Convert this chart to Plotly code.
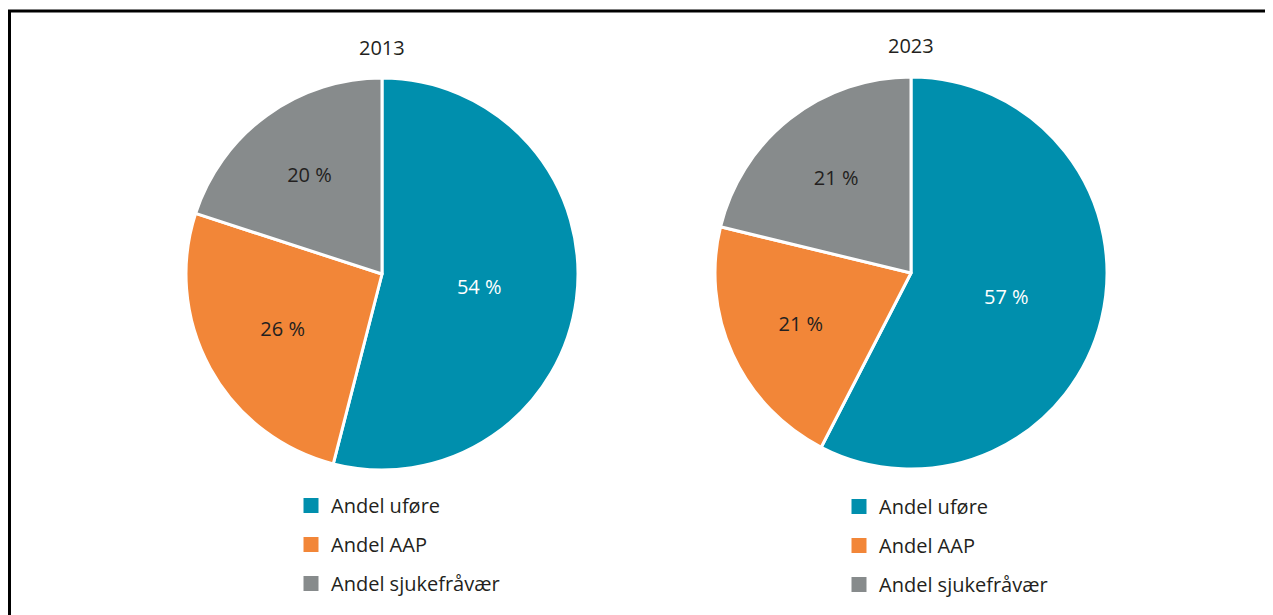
import plotly.graph_objects as go

labels = ["Andel uføre", "Andel AAP", "Andel sjukefråvær"]
colors = ["#008FAD", "#F28638", "#878B8C"]
text_colors = ["white", "#231F20", "#231F20"]

years = ["2013", "2023"]
values_2013 = [54, 26, 20]
values_2023 = [57, 21, 21]

W, H = 1273, 615
OFF = 8  # page body margin, positions below are given in screen pixels
FONT = "Open Sans"


def px_x(v):
    return (v - OFF) / W


def px_y(v):
    return 1 - (v - OFF) / H


fig = go.Figure()

# pie domains (pixel boxes converted to paper coords)
pies = [
    (values_2013, (186, 578), (78, 470), "legend"),
    (values_2023, (715, 1107), (77, 469), "legend2"),
]

for vals, (x0, x1), (y0, y1), leg in pies:
    fig.add_trace(go.Pie(
        labels=labels,
        values=vals,
        sort=False,
        direction="clockwise",
        rotation=0,
        marker=dict(colors=colors, line=dict(color="white", width=3)),
        texttemplate="%{value} %",
        textposition="inside",
        insidetextorientation="horizontal",
        textfont=dict(family=FONT, size=20, color=text_colors),
        domain=dict(x=[px_x(x0), px_x(x1)], y=[px_y(y1), px_y(y0)]),
        showlegend=False,
        hoverinfo="label+value",
    ))
    # legend entries, one group per label so the gap between rows can be set
    for lab, col in zip(labels, colors):
        fig.add_trace(go.Scatter(
            x=[None], y=[None], mode="markers",
            marker=dict(symbol="square", size=15, color=col, line=dict(width=0)),
            name=lab, legendgroup=lab, legend=leg, showlegend=True,
        ))

legend_style = dict(
    orientation="v", xanchor="left", yanchor="top",
    font=dict(family=FONT, size=20, color="#231F20"),
    tracegroupgap=10, bgcolor="rgba(0,0,0,0)", itemclick=False,
)

title_font = dict(family=FONT, size=20, color="#231F20")

fig.update_layout(
    width=W, height=H,
    margin=dict(l=0, r=0, t=0, b=0),
    paper_bgcolor="white", plot_bgcolor="white",
    xaxis=dict(visible=False), yaxis=dict(visible=False),
    legend=dict(x=px_x(291), y=px_y(486), **legend_style),
    legend2=dict(x=px_x(839), y=px_y(487), **legend_style),
    annotations=[
        dict(text=years[0], x=px_x(382), y=px_y(47), xref="paper", yref="paper",
             xanchor="center", yanchor="middle", showarrow=False, font=title_font),
        dict(text=years[1], x=px_x(911), y=px_y(46), xref="paper", yref="paper",
             xanchor="center", yanchor="middle", showarrow=False, font=title_font),
    ],
    shapes=[dict(type="rect", xref="paper", yref="paper",
                 x0=px_x(9.5), x1=px_x(1271), y0=-0.1, y1=px_y(11),
                 line=dict(color="black", width=3), fillcolor="rgba(0,0,0,0)")],
)

fig.write_html("out.html")
